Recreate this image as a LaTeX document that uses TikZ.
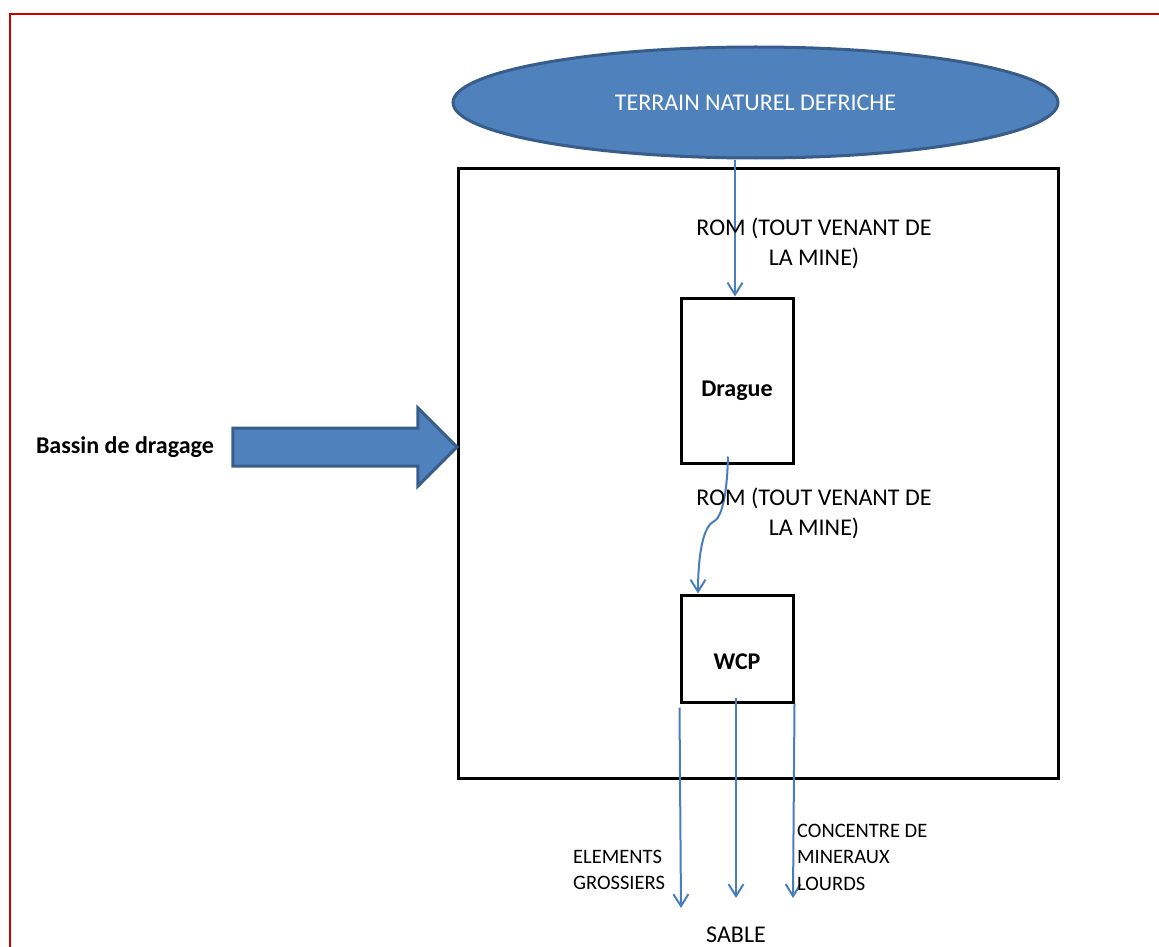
\documentclass[tikz,border=0pt]{standalone}
\usepackage{fontspec}
\setmainfont{Carlito}
\usetikzlibrary{arrows.meta,shapes.geometric,shapes.arrows}
\definecolor{fillblue}{HTML}{4F81BD}
\definecolor{edgeblue}{HTML}{385D8A}
\definecolor{flowblue}{HTML}{4A7EBB}
\definecolor{framered}{HTML}{CC0000}
\begin{document}
\begin{tikzpicture}[x=1pt,y=-1pt,
    bigtext/.style={font=\fontsize{24}{30}\selectfont, inner sep=0pt, align=center},
    smalltext/.style={font=\fontsize{20.5}{26.5}\selectfont, inner sep=0pt, align=left},
    procbox/.style={draw, line width=3pt, minimum width=112pt, inner sep=0pt},
    flow/.style={draw=flowblue, line width=2pt, -{Straight Barb[length=12pt,width=15pt,line width=2pt]}}]
    \useasboundingbox (0,0) rectangle (1159,947);
    % cadre
    \draw[framered, line width=2.5pt] (10,947) -- (10,14) -- (1159,14);
    % terrain et bassin
    \node[ellipse, fill=fillblue, draw=edgeblue, line width=3pt, minimum width=605pt,
        minimum height=111pt, inner sep=0pt, text=white, font=\fontsize{24}{30}\selectfont]
        (terrain) at (755.5,102.5) {TERRAIN NATUREL DEFRICHE};
    \node[draw, line width=3pt, minimum width=600pt, minimum height=610pt] (bassin) at (758,473) {};
    \node[single arrow, fill=fillblue, draw=edgeblue, line width=3pt, minimum height=224pt,
        text height=35pt, text depth=0pt, single arrow head extend=20pt, single arrow tip angle=90,
        inner sep=0pt, anchor=tip] (entree) at (459,447) {};
    \node[bigtext, font=\fontsize{24}{30}\selectfont\bfseries, anchor=east] (bassinlbl) at (214,447) {Bassin de dragage};
    % drague et WCP
    \node[procbox, minimum height=165pt,
        label={[font=\fontsize{24}{30}\selectfont\bfseries, yshift=-10pt]center:Drague}]
        (drague) at (737,380.5) {};
    \node[procbox, minimum height=107pt,
        label={[font=\fontsize{24}{30}\selectfont\bfseries, yshift=-13pt]center:WCP}]
        (wcp) at (737,648.5) {};
    % flux
    \draw[flow] (terrain.south -| 735,0) -- (drague.north -| 735,0);
    \node[bigtext] (rom1) at (814,243) {ROM (TOUT VENANT DE\\LA MINE)};
    \draw[flow] ([xshift=-9pt,yshift=8pt]drague.south) .. controls (727,495) and (722,518) .. (713,522)
        .. controls (702,528) and (698,560) .. ([xshift=-39pt]wcp.north);
    \node[bigtext] (rom2) at (814,513) {ROM (TOUT VENANT DE\\LA MINE)};
    \coordinate (grosend) at (681,908);
    \coordinate (sableend) at (736,898);
    \coordinate (lourdend) at (793,898);
    \draw[flow] ([yshift=-4pt]wcp.south west) -- (grosend);
    \draw[flow] ([xshift=-1pt,yshift=6pt]wcp.south) -- (sableend);
    \draw[flow] (wcp.south east) -- (lourdend);
    \node[smalltext, anchor=west] (grossiers) at (573,870) {ELEMENTS\\GROSSIERS};
    \node[smalltext, anchor=west] (lourds) at (797,857) {CONCENTRE DE\\MINERAUX\\LOURDS};
    \node[bigtext] (sable) at (736,935) {SABLE};
\end{tikzpicture}
\end{document}
